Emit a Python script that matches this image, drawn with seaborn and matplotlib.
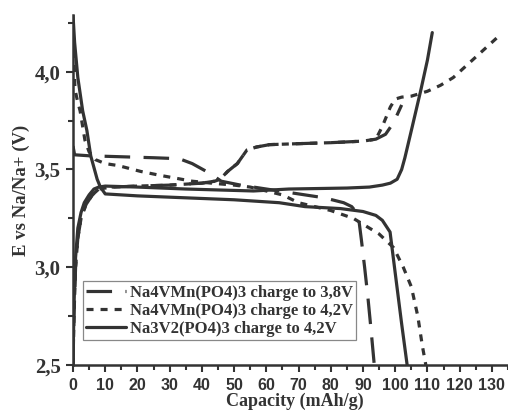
import numpy as np
import pandas as pd
import matplotlib
matplotlib.use("Agg")
import matplotlib.pyplot as plt
import seaborn as sns
from matplotlib.ticker import MultipleLocator
from matplotlib.lines import Line2D

# ---------------- data ----------------
labels = ["Na4VMn(PO4)3 charge to 3,8V",
          "Na4VMn(PO4)3 charge to 4,2V",
          "Na3V2(PO4)3 charge to 4,2V"]

# Na3V2(PO4)3 (solid) charge
nvp_ch_x = [0, 0.3, 0.8, 1.5, 2.5, 3.5, 5, 6.5, 8, 10, 20, 35, 56, 67, 85, 92, 96, 98.5, 100.6, 102, 103, 105.3, 108, 110, 111.5]
nvp_ch_v = [2.5, 2.8, 3.05, 3.2, 3.28, 3.33, 3.37, 3.40, 3.41, 3.415, 3.41, 3.40, 3.39, 3.40, 3.405, 3.41, 3.42, 3.43, 3.45, 3.50, 3.56, 3.72, 3.91, 4.06, 4.20]
# Na3V2(PO4)3 (solid) discharge
nvp_dis_x = [0, 0.5, 1.5, 3, 4.3, 5.5, 7.5, 8.5, 10, 20, 35, 50, 64, 72, 83, 90, 94, 96, 98.4, 100, 102, 103.7]
nvp_dis_v = [4.29, 4.15, 3.97, 3.80, 3.70, 3.57, 3.45, 3.41, 3.375, 3.365, 3.355, 3.345, 3.33, 3.31, 3.30, 3.285, 3.265, 3.24, 3.18, 2.97, 2.71, 2.5]

# Na4VMn(PO4)3 charge (shared part of both dashed curves)
nvm_ch_x = [0, 0.3, 0.8, 1.5, 2.5, 4, 6, 8, 12, 20, 30, 40, 44, 45.6, 48, 51, 54, 57, 61, 70, 80, 90, 94]
nvm_ch_v = [2.5, 2.75, 3.0, 3.15, 3.25, 3.32, 3.37, 3.40, 3.41, 3.415, 3.42, 3.43, 3.44, 3.45, 3.49, 3.53, 3.60, 3.615, 3.627, 3.632, 3.637, 3.645, 3.655]
# end of charge to 3,8V
nvm38_end_x = [97, 99.5, 102]
nvm38_end_v = [3.68, 3.74, 3.83]
# end of charge to 4,2V
nvm42_end_x = [96, 98.5, 100, 102, 105, 110, 114, 118, 122, 126, 130, 132]
nvm42_end_v = [3.72, 3.82, 3.86, 3.87, 3.875, 3.90, 3.93, 3.97, 4.03, 4.09, 4.15, 4.18]

# Na4VMn(PO4)3 discharge after charge to 3,8V (long dash)
nvm38_dis_x = [0, 0.5, 5, 15, 25, 33, 37, 42.5, 46, 52, 60, 70, 78, 84, 86.5, 88.5, 89.5, 90.5, 91.5, 92.5, 93.5]
nvm38_dis_v = [3.62, 3.575, 3.57, 3.565, 3.56, 3.555, 3.53, 3.48, 3.44, 3.42, 3.40, 3.375, 3.355, 3.33, 3.31, 3.27, 3.14, 3.00, 2.85, 2.68, 2.5]
# Na4VMn(PO4)3 discharge after charge to 4,2V (short dash)
nvm42_dis_x = [0, 0.6, 1.4, 2.2, 3, 3.7, 5, 7, 10, 14, 21, 27, 32, 37, 43, 50, 55, 60, 65, 70, 75, 80, 87, 91, 95, 99.5, 102.5, 105, 107, 108.4, 109.5]
nvm42_dis_v = [4.25, 3.91, 3.85, 3.80, 3.72, 3.65, 3.59, 3.55, 3.53, 3.52, 3.49, 3.47, 3.455, 3.44, 3.43, 3.42, 3.41, 3.39, 3.37, 3.33, 3.31, 3.29, 3.25, 3.21, 3.17, 3.10, 3.0, 2.90, 2.75, 2.6, 2.5]

x_ticks = list(range(0, 140, 10))
x_ticklabels = [str(t) for t in x_ticks]
y_ticks = [2.5, 3.0, 3.5, 4.0]
y_ticklabels = ["2,5", "3,0", "3,5", "4,0"]

# ---------------- style ----------------
sns.set_theme(style="ticks")
plt.rcParams['font.family'] = ['Liberation Serif', 'DejaVu Serif']
ink = '#333333'

fig = plt.figure(figsize=(5.08, 4.11), dpi=100)
ax = fig.add_axes([73 / 508, 46 / 411, 435 / 508, 350 / 411])

lw = 2.3
long_dash = (0, (8, 4.2))
short_dash = (0, (2.2, 2.2))


def draw(x, v, ls, label=None):
    df = pd.DataFrame({"x": x, "v": v})
    sns.lineplot(data=df, x="x", y="v", ax=ax, sort=False, estimator=None,
                 color=ink, linewidth=lw, linestyle=ls, label=label, legend=False)


ch38_x = nvm_ch_x + nvm38_end_x
ch38_v = nvm_ch_v + nvm38_end_v
ch42_x = nvm_ch_x + nvm42_end_x
ch42_v = nvm_ch_v + nvm42_end_v

draw(ch38_x, ch38_v, long_dash)
draw(nvm38_dis_x, nvm38_dis_v, long_dash)
draw(ch42_x, ch42_v, short_dash)
draw(nvm42_dis_x, nvm42_dis_v, short_dash)
draw(nvp_ch_x, nvp_ch_v, '-')
draw(nvp_dis_x, nvp_dis_v, '-')

ax.set_xlim(0, 135)
ax.set_ylim(2.5, 4.29)

ax.set_xticks(x_ticks)
ax.set_xticklabels(x_ticklabels, family=['Liberation Sans', 'DejaVu Sans'],
                   fontweight='bold', fontsize=11.5, color=ink)
ax.set_yticks(y_ticks)
ax.set_yticklabels(y_ticklabels, fontweight='bold', fontsize=15, color=ink)
ax.xaxis.set_minor_locator(MultipleLocator(5))
ax.yaxis.set_minor_locator(MultipleLocator(0.25))
ax.tick_params(which='major', direction='out', length=5, width=1.5, color=ink, pad=4)
ax.tick_params(which='minor', direction='out', length=3.5, width=1.5, color=ink)

for s in ['top', 'right']:
    ax.spines[s].set_visible(False)
for s in ['left', 'bottom']:
    ax.spines[s].set_linewidth(1.8)
    ax.spines[s].set_color(ink)

ax.set_xlabel("Capacity (mAh/g)", fontsize=13, fontweight='bold', color=ink)
ax.set_ylabel("E vs Na/Na+ (V)", fontsize=13.5, fontweight='bold', color=ink)
ax.xaxis.set_label_coords(0.51, -0.08)
ax.yaxis.set_label_coords(-0.098, 0.5)

handles = [Line2D([], [], color=ink, lw=lw, linestyle=long_dash),
           Line2D([], [], color=ink, lw=lw, linestyle=short_dash),
           Line2D([], [], color=ink, lw=lw, linestyle='-')]
leg = ax.legend(handles, labels, loc='lower left', bbox_to_anchor=(0.023, 0.071),
                borderaxespad=0, fancybox=False, framealpha=1, edgecolor='#888888',
                prop={'weight': 'bold', 'size': 12}, handlelength=2.4,
                handletextpad=0.2, labelspacing=0.12, borderpad=0.2)
leg.get_frame().set_linewidth(0.9)
for t in leg.get_texts():
    t.set_color(ink)

fig.savefig("out.png", dpi=100)
